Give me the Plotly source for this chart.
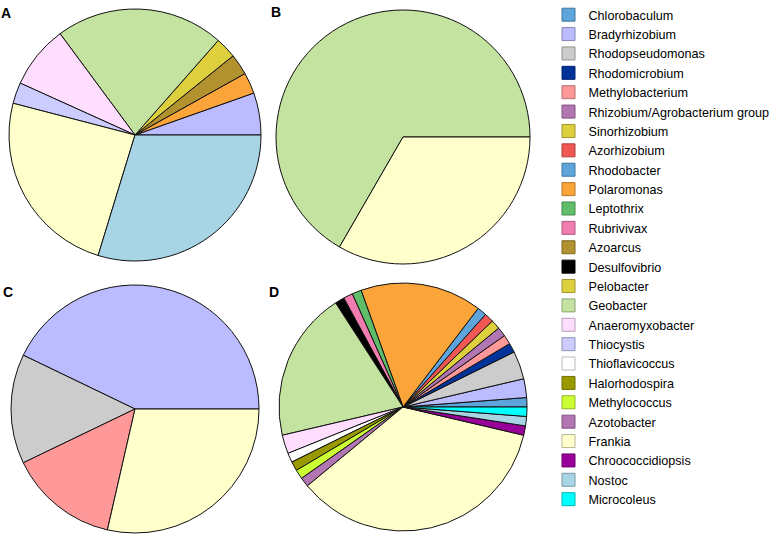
import plotly.graph_objects as go

W, H = 780, 546

# Legend taxa (legend order) and their colours
taxa = [
    "Chlorobaculum", "Bradyrhizobium", "Rhodopseudomonas", "Rhodomicrobium",
    "Methylobacterium", "Rhizobium/Agrobacterium group", "Sinorhizobium",
    "Azorhizobium", "Rhodobacter", "Polaromonas", "Leptothrix", "Rubrivivax",
    "Azoarcus", "Desulfovibrio", "Pelobacter", "Geobacter", "Anaeromyxobacter",
    "Thiocystis", "Thioflavicoccus", "Halorhodospira", "Methylococcus",
    "Azotobacter", "Frankia", "Chroococcidiopsis", "Nostoc", "Microcoleus",
]
colors = [
    "#5DA5DA", "#BBBBFF", "#CCCCCC", "#003399",
    "#FF9999", "#B276B2", "#DECF3F",
    "#F15854", "#5DA5DA", "#FAA43A", "#60BD68", "#F17CB0",
    "#B2912F", "#000000", "#DECF3F", "#C4E2A0", "#FFDDFF",
    "#CCCCFF", "#FFFFFF", "#999900", "#CCFF33",
    "#B276B2", "#FFFFCC", "#990099", "#A8D5E6", "#00FFFF",
]

# Panel A
taxa_A = ["Bradyrhizobium", "Polaromonas", "Azoarcus", "Pelobacter", "Geobacter",
          "Anaeromyxobacter", "Thiocystis", "Frankia", "Nostoc"]
counts_A = [2, 1, 1, 1, 8, 3, 1, 9, 11]

# Panel B
taxa_B = ["Geobacter", "Frankia"]
counts_B = [2, 1]

# Panel C
taxa_C = ["Bradyrhizobium", "Rhodopseudomonas", "Methylobacterium", "Frankia"]
counts_C = [3, 1, 1, 2]

# Panel D
taxa_D = ["Chlorobaculum", "Bradyrhizobium", "Rhodopseudomonas", "Rhodomicrobium",
          "Methylobacterium", "Rhizobium/Agrobacterium group", "Sinorhizobium",
          "Azorhizobium", "Rhodobacter", "Polaromonas", "Leptothrix", "Rubrivivax",
          "Desulfovibrio", "Geobacter", "Anaeromyxobacter", "Thioflavicoccus",
          "Halorhodospira", "Methylococcus", "Azotobacter", "Frankia",
          "Chroococcidiopsis", "Nostoc", "Microcoleus"]
counts_D = [1, 2, 3, 1, 1, 1, 1, 1, 1, 13, 1, 1, 1, 16, 2, 1, 1, 1, 1, 29, 1, 1, 1]

panel_labels = ["A", "B", "C", "D"]

color_of = dict(zip(taxa, colors))


def darker(hexcol, f=0.72):
    h = hexcol.lstrip("#")
    r, g, b = (int(h[i:i + 2], 16) for i in (0, 2, 4))
    if (r, g, b) == (255, 255, 255):
        return "#BBBBBB"
    return "rgb(%d,%d,%d)" % (int(r * f), int(g * f), int(b * f))


def dom(cx, cy, r):
    return dict(x=[(cx - r) / W, (cx + r) / W],
                y=[(H - cy - r) / H, (H - cy + r) / H])


panels = [
    (taxa_A, counts_A, dom(135, 135, 126)),
    (taxa_B, counts_B, dom(403, 137, 127)),
    (taxa_C, counts_C, dom(135, 409, 124)),
    (taxa_D, counts_D, dom(403, 407, 124)),
]

fig = go.Figure()
for t, c, d in panels:
    # plotly places the first counterclockwise slice clockwise of `rotation`;
    # shift so the first slice starts at 3 o'clock and runs counterclockwise
    first_deg = 360.0 * c[0] / sum(c)
    fig.add_trace(go.Pie(
        labels=t, values=c, sort=False, direction="counterclockwise",
        rotation=90 - first_deg, textinfo="none", showlegend=False,
        marker=dict(colors=[color_of[x] for x in t],
                    line=dict(color="#111111", width=1)),
        domain=d,
    ))

# legend entries
for name, col in zip(taxa, colors):
    fig.add_trace(go.Scatter(
        x=[None], y=[None], mode="markers", name=name,
        marker=dict(symbol="square", size=13, color=col,
                    line=dict(color=darker(col), width=1)),
        showlegend=True, hoverinfo="skip",
    ))

pos = {"A": (5.5, 12.5), "B": (275.7, 11.7), "C": (7.5, 291.7), "D": (273.5, 291.7)}
annotations = []
for lab in panel_labels:
    x, y = pos[lab]
    annotations.append(dict(
        text="<b>%s</b>" % lab, x=x / W, y=1 - y / H, xref="paper", yref="paper",
        xanchor="center", yanchor="middle", showarrow=False,
        font=dict(family="Liberation Sans, Arial, sans-serif", size=14, color="black"),
    ))

fig.update_layout(
    width=W, height=H, autosize=False,
    margin=dict(l=0, r=0, t=0, b=0),
    paper_bgcolor="white", plot_bgcolor="white",
    xaxis=dict(visible=False), yaxis=dict(visible=False),
    showlegend=True,
    legend=dict(
        x=548.5 / W, y=1.0, xanchor="left", yanchor="top",
        font=dict(family="Liberation Sans, Arial, sans-serif", size=12.6, color="black"),
        bgcolor="rgba(0,0,0,0)", borderwidth=0, tracegroupgap=0,
        itemclick=False, itemdoubleclick=False,
    ),
    annotations=annotations,
    font=dict(family="Liberation Sans, Arial, sans-serif"),
)

fig.write_html("out.html", config={"displayModeBar": False},
               post_script="document.body.style.margin='0';")
